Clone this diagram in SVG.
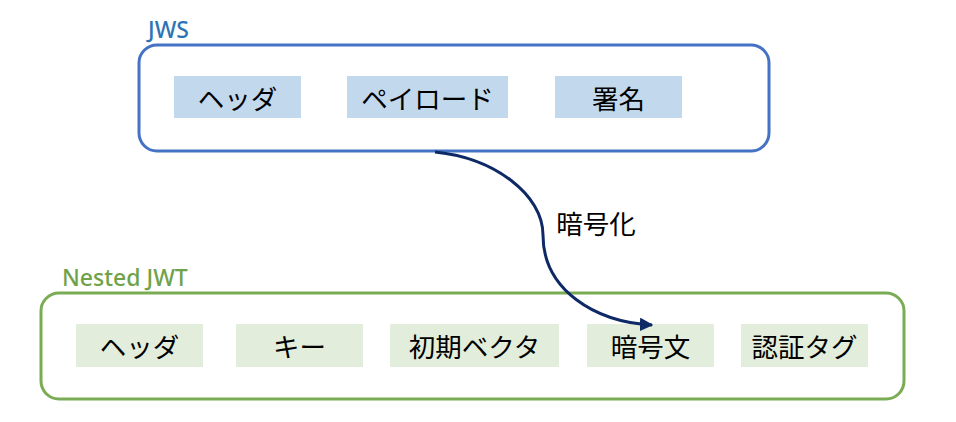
<svg xmlns="http://www.w3.org/2000/svg" width="956" height="422" viewBox="0 0 956 422">
<style>
.jws{fill:#fff;stroke:#4472C4;stroke-width:3}
.nest{fill:#fff;stroke:#7AAB55;stroke-width:3}
.bi{fill:#C2D8EC}
.gi{fill:#E3EDDB}
.t{font-family:"Noto Sans CJK JP","Noto Sans",sans-serif;font-size:26.5px;fill:#000;text-anchor:middle;dominant-baseline:central}
.lbl{font-family:"Noto Sans","Open Sans",sans-serif;font-size:23px;font-weight:500}
</style>
<defs>
<marker id="ah" viewBox="0 0 10 10" refX="9" refY="5" markerWidth="4.5" markerHeight="4.5" orient="auto" markerUnits="strokeWidth">
<path d="M0,0 L10,5 L0,10 z" fill="#0E2A66"/>
</marker>
</defs>
<g id="jws">
<rect class="jws" x="139" y="45" width="630" height="106" rx="18"/>
<text class="lbl" x="148" y="38" fill="#2E74B5">JWS</text>
</g>
<g id="jws-header"><rect class="bi" x="174" y="76" width="127" height="42"/><text class="t" x="237.5" y="97">ヘッダ</text></g>
<g id="jws-payload"><rect class="bi" x="347" y="76" width="161" height="42"/><text class="t" x="427.5" y="97">ペイロード</text></g>
<g id="jws-signature"><rect class="bi" x="555" y="76" width="127" height="42"/><text class="t" x="618.5" y="97">署名</text></g>
<g id="nested">
<rect class="nest" x="41" y="293" width="863" height="106" rx="18"/>
<text class="lbl" x="62" y="286" fill="#70A24A">Nested JWT</text>
</g>
<g id="n-header"><rect class="gi" x="76" y="324" width="127" height="43"/><text class="t" x="139.5" y="345.5">ヘッダ</text></g>
<g id="n-key"><rect class="gi" x="236" y="324" width="127" height="43"/><text class="t" x="299.5" y="345.5">キー</text></g>
<g id="n-iv"><rect class="gi" x="390" y="324" width="169" height="43"/><text class="t" x="474.5" y="345.5">初期ベクタ</text></g>
<g id="n-cipher"><rect class="gi" x="587" y="324" width="127" height="43"/><text class="t" x="650.5" y="345.5">暗号文</text></g>
<g id="n-tag"><rect class="gi" x="741" y="324" width="127" height="43"/><text class="t" x="804.5" y="345.5">認証タグ</text></g>
<g id="connectors">
<path d="M435,152 C495,158 543,195 543,235 C543,290 595,322 652,325" fill="none" stroke="#0E2A66" stroke-width="3" marker-end="url(#ah)"/>
<text class="t" x="596" y="222">暗号化</text>
</g>
</svg>
